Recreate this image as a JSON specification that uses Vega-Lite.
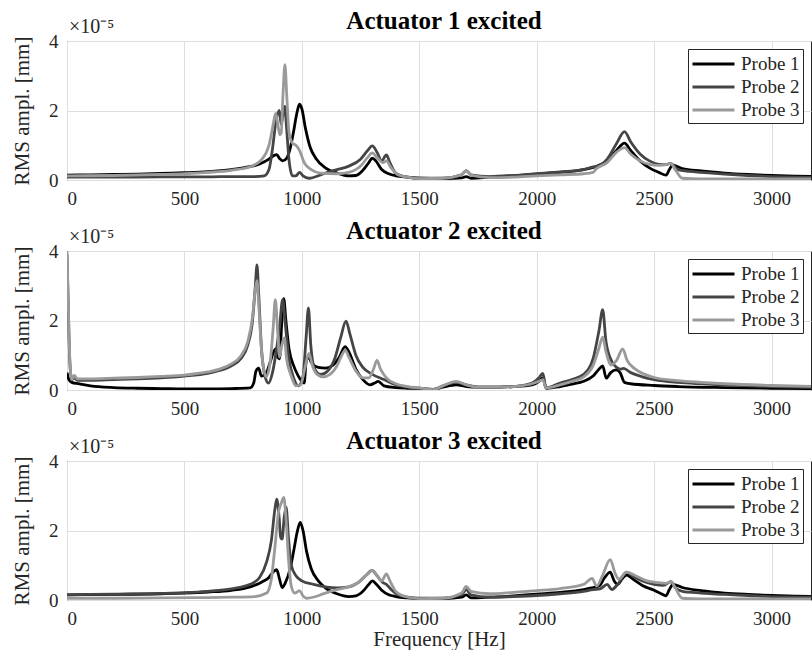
{
"$schema": "https://vega.github.io/schema/vega-lite/v6.json",
"padding": {"left": 10, "top": 8, "right": 0, "bottom": 0},
"background": "white",
"datasets": {
"frf": [
{"act":1,"probe":"Probe 1","f":0,"a":0.14},{"act":1,"probe":"Probe 1","f":100,"a":0.15},{"act":1,"probe":"Probe 1","f":200,"a":0.16},{"act":1,"probe":"Probe 1","f":300,"a":0.17},{"act":1,"probe":"Probe 1","f":400,"a":0.19},{"act":1,"probe":"Probe 1","f":500,"a":0.21},{"act":1,"probe":"Probe 1","f":600,"a":0.24},{"act":1,"probe":"Probe 1","f":700,"a":0.3},{"act":1,"probe":"Probe 1","f":760,"a":0.36},{"act":1,"probe":"Probe 1","f":820,"a":0.46},{"act":1,"probe":"Probe 1","f":860,"a":0.6},{"act":1,"probe":"Probe 1","f":880,"a":0.7},{"act":1,"probe":"Probe 1","f":893,"a":0.73},{"act":1,"probe":"Probe 1","f":905,"a":0.62},{"act":1,"probe":"Probe 1","f":918,"a":0.55},{"act":1,"probe":"Probe 1","f":935,"a":0.62},{"act":1,"probe":"Probe 1","f":950,"a":0.9},{"act":1,"probe":"Probe 1","f":965,"a":1.4},{"act":1,"probe":"Probe 1","f":978,"a":1.9},{"act":1,"probe":"Probe 1","f":990,"a":2.18},{"act":1,"probe":"Probe 1","f":1000,"a":2.05},{"act":1,"probe":"Probe 1","f":1015,"a":1.5},{"act":1,"probe":"Probe 1","f":1035,"a":0.95},{"act":1,"probe":"Probe 1","f":1060,"a":0.62},{"act":1,"probe":"Probe 1","f":1100,"a":0.35},{"act":1,"probe":"Probe 1","f":1150,"a":0.2},{"act":1,"probe":"Probe 1","f":1200,"a":0.12},{"act":1,"probe":"Probe 1","f":1230,"a":0.13},{"act":1,"probe":"Probe 1","f":1260,"a":0.28},{"act":1,"probe":"Probe 1","f":1285,"a":0.5},{"act":1,"probe":"Probe 1","f":1300,"a":0.63},{"act":1,"probe":"Probe 1","f":1315,"a":0.55},{"act":1,"probe":"Probe 1","f":1340,"a":0.3},{"act":1,"probe":"Probe 1","f":1370,"a":0.18},{"act":1,"probe":"Probe 1","f":1400,"a":0.12},{"act":1,"probe":"Probe 1","f":1450,"a":0.08},{"act":1,"probe":"Probe 1","f":1500,"a":0.05},{"act":1,"probe":"Probe 1","f":1600,"a":0.04},{"act":1,"probe":"Probe 1","f":1680,"a":0.06},{"act":1,"probe":"Probe 1","f":1700,"a":0.1},{"act":1,"probe":"Probe 1","f":1720,"a":0.05},{"act":1,"probe":"Probe 1","f":1800,"a":0.08},{"act":1,"probe":"Probe 1","f":1900,"a":0.12},{"act":1,"probe":"Probe 1","f":2000,"a":0.17},{"act":1,"probe":"Probe 1","f":2100,"a":0.22},{"act":1,"probe":"Probe 1","f":2200,"a":0.3},{"act":1,"probe":"Probe 1","f":2250,"a":0.38},{"act":1,"probe":"Probe 1","f":2300,"a":0.55},{"act":1,"probe":"Probe 1","f":2340,"a":0.85},{"act":1,"probe":"Probe 1","f":2374,"a":1.06},{"act":1,"probe":"Probe 1","f":2400,"a":0.85},{"act":1,"probe":"Probe 1","f":2440,"a":0.55},{"act":1,"probe":"Probe 1","f":2480,"a":0.35},{"act":1,"probe":"Probe 1","f":2520,"a":0.22},{"act":1,"probe":"Probe 1","f":2551,"a":0.14},{"act":1,"probe":"Probe 1","f":2565,"a":0.3},{"act":1,"probe":"Probe 1","f":2579,"a":0.43},{"act":1,"probe":"Probe 1","f":2620,"a":0.33},{"act":1,"probe":"Probe 1","f":2700,"a":0.26},{"act":1,"probe":"Probe 1","f":2800,"a":0.2},{"act":1,"probe":"Probe 1","f":2900,"a":0.16},{"act":1,"probe":"Probe 1","f":3000,"a":0.13},{"act":1,"probe":"Probe 1","f":3100,"a":0.11},{"act":1,"probe":"Probe 1","f":3200,"a":0.1},

{"act":1,"probe":"Probe 2","f":0,"a":0.08},{"act":1,"probe":"Probe 2","f":200,"a":0.08},{"act":1,"probe":"Probe 2","f":400,"a":0.09},{"act":1,"probe":"Probe 2","f":600,"a":0.09},{"act":1,"probe":"Probe 2","f":700,"a":0.1},{"act":1,"probe":"Probe 2","f":800,"a":0.1},{"act":1,"probe":"Probe 2","f":840,"a":0.12},{"act":1,"probe":"Probe 2","f":860,"a":0.3},{"act":1,"probe":"Probe 2","f":875,"a":0.9},{"act":1,"probe":"Probe 2","f":890,"a":1.7},{"act":1,"probe":"Probe 2","f":904,"a":2.0},{"act":1,"probe":"Probe 2","f":912,"a":1.6},{"act":1,"probe":"Probe 2","f":920,"a":1.9},{"act":1,"probe":"Probe 2","f":927,"a":2.12},{"act":1,"probe":"Probe 2","f":935,"a":1.5},{"act":1,"probe":"Probe 2","f":945,"a":0.6},{"act":1,"probe":"Probe 2","f":960,"a":0.12},{"act":1,"probe":"Probe 2","f":975,"a":0.12},{"act":1,"probe":"Probe 2","f":990,"a":0.22},{"act":1,"probe":"Probe 2","f":1005,"a":0.12},{"act":1,"probe":"Probe 2","f":1030,"a":0.05},{"act":1,"probe":"Probe 2","f":1100,"a":0.2},{"act":1,"probe":"Probe 2","f":1150,"a":0.3},{"act":1,"probe":"Probe 2","f":1200,"a":0.4},{"act":1,"probe":"Probe 2","f":1250,"a":0.6},{"act":1,"probe":"Probe 2","f":1280,"a":0.85},{"act":1,"probe":"Probe 2","f":1300,"a":0.98},{"act":1,"probe":"Probe 2","f":1320,"a":0.8},{"act":1,"probe":"Probe 2","f":1340,"a":0.55},{"act":1,"probe":"Probe 2","f":1360,"a":0.72},{"act":1,"probe":"Probe 2","f":1375,"a":0.5},{"act":1,"probe":"Probe 2","f":1400,"a":0.2},{"act":1,"probe":"Probe 2","f":1450,"a":0.08},{"act":1,"probe":"Probe 2","f":1500,"a":0.05},{"act":1,"probe":"Probe 2","f":1600,"a":0.05},{"act":1,"probe":"Probe 2","f":1680,"a":0.15},{"act":1,"probe":"Probe 2","f":1700,"a":0.27},{"act":1,"probe":"Probe 2","f":1720,"a":0.15},{"act":1,"probe":"Probe 2","f":1800,"a":0.1},{"act":1,"probe":"Probe 2","f":1900,"a":0.13},{"act":1,"probe":"Probe 2","f":2000,"a":0.18},{"act":1,"probe":"Probe 2","f":2100,"a":0.23},{"act":1,"probe":"Probe 2","f":2200,"a":0.3},{"act":1,"probe":"Probe 2","f":2240,"a":0.38},{"act":1,"probe":"Probe 2","f":2260,"a":0.4},{"act":1,"probe":"Probe 2","f":2300,"a":0.6},{"act":1,"probe":"Probe 2","f":2340,"a":1.05},{"act":1,"probe":"Probe 2","f":2374,"a":1.39},{"act":1,"probe":"Probe 2","f":2400,"a":1.1},{"act":1,"probe":"Probe 2","f":2440,"a":0.75},{"act":1,"probe":"Probe 2","f":2480,"a":0.55},{"act":1,"probe":"Probe 2","f":2520,"a":0.45},{"act":1,"probe":"Probe 2","f":2550,"a":0.44},{"act":1,"probe":"Probe 2","f":2570,"a":0.48},{"act":1,"probe":"Probe 2","f":2600,"a":0.3},{"act":1,"probe":"Probe 2","f":2650,"a":0.25},{"act":1,"probe":"Probe 2","f":2700,"a":0.22},{"act":1,"probe":"Probe 2","f":2800,"a":0.17},{"act":1,"probe":"Probe 2","f":2900,"a":0.13},{"act":1,"probe":"Probe 2","f":3000,"a":0.1},{"act":1,"probe":"Probe 2","f":3100,"a":0.08},{"act":1,"probe":"Probe 2","f":3200,"a":0.07},

{"act":1,"probe":"Probe 3","f":0,"a":0.12},{"act":1,"probe":"Probe 3","f":200,"a":0.13},{"act":1,"probe":"Probe 3","f":400,"a":0.16},{"act":1,"probe":"Probe 3","f":500,"a":0.18},{"act":1,"probe":"Probe 3","f":600,"a":0.22},{"act":1,"probe":"Probe 3","f":700,"a":0.28},{"act":1,"probe":"Probe 3","f":780,"a":0.38},{"act":1,"probe":"Probe 3","f":830,"a":0.6},{"act":1,"probe":"Probe 3","f":860,"a":1.0},{"act":1,"probe":"Probe 3","f":878,"a":1.6},{"act":1,"probe":"Probe 3","f":888,"a":1.92},{"act":1,"probe":"Probe 3","f":898,"a":1.6},{"act":1,"probe":"Probe 3","f":906,"a":1.3},{"act":1,"probe":"Probe 3","f":912,"a":1.35},{"act":1,"probe":"Probe 3","f":920,"a":2.5},{"act":1,"probe":"Probe 3","f":928,"a":3.32},{"act":1,"probe":"Probe 3","f":936,"a":2.4},{"act":1,"probe":"Probe 3","f":945,"a":1.4},{"act":1,"probe":"Probe 3","f":960,"a":1.06},{"act":1,"probe":"Probe 3","f":975,"a":1.0},{"act":1,"probe":"Probe 3","f":990,"a":0.85},{"act":1,"probe":"Probe 3","f":1010,"a":0.5},{"act":1,"probe":"Probe 3","f":1040,"a":0.3},{"act":1,"probe":"Probe 3","f":1080,"a":0.2},{"act":1,"probe":"Probe 3","f":1150,"a":0.18},{"act":1,"probe":"Probe 3","f":1200,"a":0.22},{"act":1,"probe":"Probe 3","f":1250,"a":0.4},{"act":1,"probe":"Probe 3","f":1280,"a":0.65},{"act":1,"probe":"Probe 3","f":1300,"a":0.78},{"act":1,"probe":"Probe 3","f":1320,"a":0.65},{"act":1,"probe":"Probe 3","f":1345,"a":0.5},{"act":1,"probe":"Probe 3","f":1360,"a":0.55},{"act":1,"probe":"Probe 3","f":1380,"a":0.35},{"act":1,"probe":"Probe 3","f":1410,"a":0.15},{"act":1,"probe":"Probe 3","f":1450,"a":0.08},{"act":1,"probe":"Probe 3","f":1500,"a":0.04},{"act":1,"probe":"Probe 3","f":1600,"a":0.05},{"act":1,"probe":"Probe 3","f":1680,"a":0.15},{"act":1,"probe":"Probe 3","f":1700,"a":0.27},{"act":1,"probe":"Probe 3","f":1720,"a":0.14},{"act":1,"probe":"Probe 3","f":1800,"a":0.07},{"act":1,"probe":"Probe 3","f":1900,"a":0.08},{"act":1,"probe":"Probe 3","f":2000,"a":0.12},{"act":1,"probe":"Probe 3","f":2100,"a":0.15},{"act":1,"probe":"Probe 3","f":2200,"a":0.18},{"act":1,"probe":"Probe 3","f":2240,"a":0.22},{"act":1,"probe":"Probe 3","f":2255,"a":0.33},{"act":1,"probe":"Probe 3","f":2300,"a":0.5},{"act":1,"probe":"Probe 3","f":2340,"a":0.8},{"act":1,"probe":"Probe 3","f":2374,"a":0.93},{"act":1,"probe":"Probe 3","f":2400,"a":0.75},{"act":1,"probe":"Probe 3","f":2440,"a":0.55},{"act":1,"probe":"Probe 3","f":2480,"a":0.45},{"act":1,"probe":"Probe 3","f":2520,"a":0.42},{"act":1,"probe":"Probe 3","f":2550,"a":0.44},{"act":1,"probe":"Probe 3","f":2570,"a":0.48},{"act":1,"probe":"Probe 3","f":2590,"a":0.3},{"act":1,"probe":"Probe 3","f":2620,"a":0.05},{"act":1,"probe":"Probe 3","f":2700,"a":0.03},{"act":1,"probe":"Probe 3","f":2900,"a":0.03},{"act":1,"probe":"Probe 3","f":3200,"a":0.03},

{"act":2,"probe":"Probe 1","f":0,"a":0.5},{"act":2,"probe":"Probe 1","f":8,"a":0.3},{"act":2,"probe":"Probe 1","f":20,"a":0.22},{"act":2,"probe":"Probe 1","f":50,"a":0.18},{"act":2,"probe":"Probe 1","f":100,"a":0.12},{"act":2,"probe":"Probe 1","f":200,"a":0.07},{"act":2,"probe":"Probe 1","f":300,"a":0.05},{"act":2,"probe":"Probe 1","f":400,"a":0.04},{"act":2,"probe":"Probe 1","f":500,"a":0.03},{"act":2,"probe":"Probe 1","f":600,"a":0.03},{"act":2,"probe":"Probe 1","f":700,"a":0.04},{"act":2,"probe":"Probe 1","f":780,"a":0.06},{"act":2,"probe":"Probe 1","f":795,"a":0.2},{"act":2,"probe":"Probe 1","f":805,"a":0.55},{"act":2,"probe":"Probe 1","f":816,"a":0.63},{"act":2,"probe":"Probe 1","f":828,"a":0.4},{"act":2,"probe":"Probe 1","f":845,"a":0.45},{"act":2,"probe":"Probe 1","f":865,"a":0.8},{"act":2,"probe":"Probe 1","f":880,"a":1.1},{"act":2,"probe":"Probe 1","f":888,"a":1.18},{"act":2,"probe":"Probe 1","f":897,"a":0.95},{"act":2,"probe":"Probe 1","f":905,"a":0.9},{"act":2,"probe":"Probe 1","f":915,"a":2.0},{"act":2,"probe":"Probe 1","f":923,"a":2.63},{"act":2,"probe":"Probe 1","f":932,"a":2.0},{"act":2,"probe":"Probe 1","f":945,"a":1.2},{"act":2,"probe":"Probe 1","f":965,"a":0.7},{"act":2,"probe":"Probe 1","f":985,"a":0.4},{"act":2,"probe":"Probe 1","f":1000,"a":0.25},{"act":2,"probe":"Probe 1","f":1010,"a":0.2},{"act":2,"probe":"Probe 1","f":1018,"a":0.8},{"act":2,"probe":"Probe 1","f":1028,"a":0.95},{"act":2,"probe":"Probe 1","f":1040,"a":0.8},{"act":2,"probe":"Probe 1","f":1070,"a":0.65},{"act":2,"probe":"Probe 1","f":1100,"a":0.63},{"act":2,"probe":"Probe 1","f":1130,"a":0.7},{"act":2,"probe":"Probe 1","f":1160,"a":0.95},{"act":2,"probe":"Probe 1","f":1184,"a":1.25},{"act":2,"probe":"Probe 1","f":1200,"a":1.1},{"act":2,"probe":"Probe 1","f":1230,"a":0.6},{"act":2,"probe":"Probe 1","f":1260,"a":0.3},{"act":2,"probe":"Probe 1","f":1290,"a":0.15},{"act":2,"probe":"Probe 1","f":1310,"a":0.2},{"act":2,"probe":"Probe 1","f":1325,"a":0.25},{"act":2,"probe":"Probe 1","f":1350,"a":0.12},{"act":2,"probe":"Probe 1","f":1400,"a":0.07},{"act":2,"probe":"Probe 1","f":1450,"a":0.05},{"act":2,"probe":"Probe 1","f":1500,"a":0.04},{"act":2,"probe":"Probe 1","f":1560,"a":0.02},{"act":2,"probe":"Probe 1","f":1600,"a":0.08},{"act":2,"probe":"Probe 1","f":1657,"a":0.15},{"act":2,"probe":"Probe 1","f":1700,"a":0.1},{"act":2,"probe":"Probe 1","f":1750,"a":0.08},{"act":2,"probe":"Probe 1","f":1800,"a":0.08},{"act":2,"probe":"Probe 1","f":1900,"a":0.1},{"act":2,"probe":"Probe 1","f":1980,"a":0.15},{"act":2,"probe":"Probe 1","f":2010,"a":0.25},{"act":2,"probe":"Probe 1","f":2026,"a":0.35},{"act":2,"probe":"Probe 1","f":2040,"a":0.05},{"act":2,"probe":"Probe 1","f":2100,"a":0.1},{"act":2,"probe":"Probe 1","f":2150,"a":0.17},{"act":2,"probe":"Probe 1","f":2200,"a":0.25},{"act":2,"probe":"Probe 1","f":2240,"a":0.4},{"act":2,"probe":"Probe 1","f":2265,"a":0.6},{"act":2,"probe":"Probe 1","f":2281,"a":0.69},{"act":2,"probe":"Probe 1","f":2296,"a":0.34},{"act":2,"probe":"Probe 1","f":2315,"a":0.5},{"act":2,"probe":"Probe 1","f":2338,"a":0.58},{"act":2,"probe":"Probe 1","f":2355,"a":0.5},{"act":2,"probe":"Probe 1","f":2374,"a":0.22},{"act":2,"probe":"Probe 1","f":2400,"a":0.18},{"act":2,"probe":"Probe 1","f":2500,"a":0.13},{"act":2,"probe":"Probe 1","f":2600,"a":0.1},{"act":2,"probe":"Probe 1","f":2800,"a":0.07},{"act":2,"probe":"Probe 1","f":3000,"a":0.05},{"act":2,"probe":"Probe 1","f":3200,"a":0.04},

{"act":2,"probe":"Probe 2","f":0,"a":3.9},{"act":2,"probe":"Probe 2","f":5,"a":2.5},{"act":2,"probe":"Probe 2","f":12,"a":0.8},{"act":2,"probe":"Probe 2","f":20,"a":0.3},{"act":2,"probe":"Probe 2","f":30,"a":0.35},{"act":2,"probe":"Probe 2","f":45,"a":0.28},{"act":2,"probe":"Probe 2","f":100,"a":0.28},{"act":2,"probe":"Probe 2","f":200,"a":0.3},{"act":2,"probe":"Probe 2","f":300,"a":0.32},{"act":2,"probe":"Probe 2","f":400,"a":0.35},{"act":2,"probe":"Probe 2","f":500,"a":0.4},{"act":2,"probe":"Probe 2","f":600,"a":0.48},{"act":2,"probe":"Probe 2","f":650,"a":0.56},{"act":2,"probe":"Probe 2","f":700,"a":0.7},{"act":2,"probe":"Probe 2","f":740,"a":0.9},{"act":2,"probe":"Probe 2","f":770,"a":1.3},{"act":2,"probe":"Probe 2","f":790,"a":2.0},{"act":2,"probe":"Probe 2","f":802,"a":3.0},{"act":2,"probe":"Probe 2","f":809,"a":3.6},{"act":2,"probe":"Probe 2","f":816,"a":2.8},{"act":2,"probe":"Probe 2","f":828,"a":1.2},{"act":2,"probe":"Probe 2","f":845,"a":0.35},{"act":2,"probe":"Probe 2","f":858,"a":0.2},{"act":2,"probe":"Probe 2","f":875,"a":0.5},{"act":2,"probe":"Probe 2","f":895,"a":1.3},{"act":2,"probe":"Probe 2","f":905,"a":1.8},{"act":2,"probe":"Probe 2","f":918,"a":2.6},{"act":2,"probe":"Probe 2","f":928,"a":2.0},{"act":2,"probe":"Probe 2","f":945,"a":0.9},{"act":2,"probe":"Probe 2","f":965,"a":0.35},{"act":2,"probe":"Probe 2","f":985,"a":0.12},{"act":2,"probe":"Probe 2","f":1005,"a":0.4},{"act":2,"probe":"Probe 2","f":1018,"a":1.5},{"act":2,"probe":"Probe 2","f":1028,"a":2.36},{"act":2,"probe":"Probe 2","f":1038,"a":1.3},{"act":2,"probe":"Probe 2","f":1055,"a":0.6},{"act":2,"probe":"Probe 2","f":1080,"a":0.45},{"act":2,"probe":"Probe 2","f":1110,"a":0.55},{"act":2,"probe":"Probe 2","f":1140,"a":0.9},{"act":2,"probe":"Probe 2","f":1165,"a":1.5},{"act":2,"probe":"Probe 2","f":1188,"a":1.98},{"act":2,"probe":"Probe 2","f":1205,"a":1.6},{"act":2,"probe":"Probe 2","f":1230,"a":1.0},{"act":2,"probe":"Probe 2","f":1260,"a":0.65},{"act":2,"probe":"Probe 2","f":1300,"a":0.45},{"act":2,"probe":"Probe 2","f":1350,"a":0.3},{"act":2,"probe":"Probe 2","f":1400,"a":0.15},{"act":2,"probe":"Probe 2","f":1450,"a":0.08},{"act":2,"probe":"Probe 2","f":1500,"a":0.05},{"act":2,"probe":"Probe 2","f":1560,"a":0.01},{"act":2,"probe":"Probe 2","f":1600,"a":0.12},{"act":2,"probe":"Probe 2","f":1657,"a":0.22},{"act":2,"probe":"Probe 2","f":1700,"a":0.15},{"act":2,"probe":"Probe 2","f":1750,"a":0.08},{"act":2,"probe":"Probe 2","f":1800,"a":0.08},{"act":2,"probe":"Probe 2","f":1900,"a":0.1},{"act":2,"probe":"Probe 2","f":1980,"a":0.2},{"act":2,"probe":"Probe 2","f":2010,"a":0.35},{"act":2,"probe":"Probe 2","f":2026,"a":0.48},{"act":2,"probe":"Probe 2","f":2040,"a":0.06},{"act":2,"probe":"Probe 2","f":2100,"a":0.2},{"act":2,"probe":"Probe 2","f":2150,"a":0.3},{"act":2,"probe":"Probe 2","f":2200,"a":0.45},{"act":2,"probe":"Probe 2","f":2240,"a":0.9},{"act":2,"probe":"Probe 2","f":2265,"a":1.7},{"act":2,"probe":"Probe 2","f":2281,"a":2.31},{"act":2,"probe":"Probe 2","f":2295,"a":1.4},{"act":2,"probe":"Probe 2","f":2320,"a":0.82},{"act":2,"probe":"Probe 2","f":2340,"a":0.65},{"act":2,"probe":"Probe 2","f":2355,"a":0.6},{"act":2,"probe":"Probe 2","f":2370,"a":0.62},{"act":2,"probe":"Probe 2","f":2400,"a":0.5},{"act":2,"probe":"Probe 2","f":2450,"a":0.38},{"act":2,"probe":"Probe 2","f":2500,"a":0.3},{"act":2,"probe":"Probe 2","f":2600,"a":0.22},{"act":2,"probe":"Probe 2","f":2700,"a":0.18},{"act":2,"probe":"Probe 2","f":2800,"a":0.15},{"act":2,"probe":"Probe 2","f":3000,"a":0.1},{"act":2,"probe":"Probe 2","f":3200,"a":0.07},

{"act":2,"probe":"Probe 3","f":0,"a":4.0},{"act":2,"probe":"Probe 3","f":5,"a":2.6},{"act":2,"probe":"Probe 3","f":12,"a":0.9},{"act":2,"probe":"Probe 3","f":20,"a":0.3},{"act":2,"probe":"Probe 3","f":30,"a":0.42},{"act":2,"probe":"Probe 3","f":45,"a":0.32},{"act":2,"probe":"Probe 3","f":100,"a":0.32},{"act":2,"probe":"Probe 3","f":200,"a":0.34},{"act":2,"probe":"Probe 3","f":300,"a":0.36},{"act":2,"probe":"Probe 3","f":400,"a":0.39},{"act":2,"probe":"Probe 3","f":500,"a":0.43},{"act":2,"probe":"Probe 3","f":600,"a":0.52},{"act":2,"probe":"Probe 3","f":650,"a":0.6},{"act":2,"probe":"Probe 3","f":700,"a":0.75},{"act":2,"probe":"Probe 3","f":740,"a":0.98},{"act":2,"probe":"Probe 3","f":770,"a":1.4},{"act":2,"probe":"Probe 3","f":790,"a":2.1},{"act":2,"probe":"Probe 3","f":802,"a":2.9},{"act":2,"probe":"Probe 3","f":809,"a":3.15},{"act":2,"probe":"Probe 3","f":816,"a":2.5},{"act":2,"probe":"Probe 3","f":830,"a":1.0},{"act":2,"probe":"Probe 3","f":848,"a":0.38},{"act":2,"probe":"Probe 3","f":865,"a":0.8},{"act":2,"probe":"Probe 3","f":878,"a":1.8},{"act":2,"probe":"Probe 3","f":887,"a":2.6},{"act":2,"probe":"Probe 3","f":896,"a":1.8},{"act":2,"probe":"Probe 3","f":905,"a":0.95},{"act":2,"probe":"Probe 3","f":915,"a":1.3},{"act":2,"probe":"Probe 3","f":925,"a":1.5},{"act":2,"probe":"Probe 3","f":935,"a":0.9},{"act":2,"probe":"Probe 3","f":955,"a":0.4},{"act":2,"probe":"Probe 3","f":975,"a":0.12},{"act":2,"probe":"Probe 3","f":995,"a":0.15},{"act":2,"probe":"Probe 3","f":1012,"a":0.6},{"act":2,"probe":"Probe 3","f":1030,"a":1.05},{"act":2,"probe":"Probe 3","f":1045,"a":0.7},{"act":2,"probe":"Probe 3","f":1065,"a":0.45},{"act":2,"probe":"Probe 3","f":1090,"a":0.38},{"act":2,"probe":"Probe 3","f":1120,"a":0.45},{"act":2,"probe":"Probe 3","f":1150,"a":0.7},{"act":2,"probe":"Probe 3","f":1170,"a":1.0},{"act":2,"probe":"Probe 3","f":1185,"a":1.15},{"act":2,"probe":"Probe 3","f":1200,"a":0.95},{"act":2,"probe":"Probe 3","f":1230,"a":0.55},{"act":2,"probe":"Probe 3","f":1260,"a":0.35},{"act":2,"probe":"Probe 3","f":1285,"a":0.35},{"act":2,"probe":"Probe 3","f":1305,"a":0.6},{"act":2,"probe":"Probe 3","f":1320,"a":0.85},{"act":2,"probe":"Probe 3","f":1335,"a":0.6},{"act":2,"probe":"Probe 3","f":1360,"a":0.35},{"act":2,"probe":"Probe 3","f":1400,"a":0.18},{"act":2,"probe":"Probe 3","f":1450,"a":0.1},{"act":2,"probe":"Probe 3","f":1500,"a":0.06},{"act":2,"probe":"Probe 3","f":1560,"a":0.01},{"act":2,"probe":"Probe 3","f":1600,"a":0.12},{"act":2,"probe":"Probe 3","f":1657,"a":0.25},{"act":2,"probe":"Probe 3","f":1700,"a":0.15},{"act":2,"probe":"Probe 3","f":1750,"a":0.08},{"act":2,"probe":"Probe 3","f":1800,"a":0.08},{"act":2,"probe":"Probe 3","f":1900,"a":0.1},{"act":2,"probe":"Probe 3","f":1980,"a":0.18},{"act":2,"probe":"Probe 3","f":2010,"a":0.25},{"act":2,"probe":"Probe 3","f":2026,"a":0.3},{"act":2,"probe":"Probe 3","f":2040,"a":0.06},{"act":2,"probe":"Probe 3","f":2100,"a":0.15},{"act":2,"probe":"Probe 3","f":2150,"a":0.25},{"act":2,"probe":"Probe 3","f":2200,"a":0.38},{"act":2,"probe":"Probe 3","f":2240,"a":0.7},{"act":2,"probe":"Probe 3","f":2265,"a":1.2},{"act":2,"probe":"Probe 3","f":2281,"a":1.52},{"act":2,"probe":"Probe 3","f":2295,"a":1.1},{"act":2,"probe":"Probe 3","f":2317,"a":0.72},{"act":2,"probe":"Probe 3","f":2340,"a":0.85},{"act":2,"probe":"Probe 3","f":2366,"a":1.18},{"act":2,"probe":"Probe 3","f":2385,"a":0.85},{"act":2,"probe":"Probe 3","f":2420,"a":0.6},{"act":2,"probe":"Probe 3","f":2460,"a":0.45},{"act":2,"probe":"Probe 3","f":2500,"a":0.36},{"act":2,"probe":"Probe 3","f":2600,"a":0.27},{"act":2,"probe":"Probe 3","f":2700,"a":0.22},{"act":2,"probe":"Probe 3","f":2800,"a":0.18},{"act":2,"probe":"Probe 3","f":3000,"a":0.13},{"act":2,"probe":"Probe 3","f":3200,"a":0.1},

{"act":3,"probe":"Probe 1","f":0,"a":0.15},{"act":3,"probe":"Probe 1","f":200,"a":0.16},{"act":3,"probe":"Probe 1","f":400,"a":0.18},{"act":3,"probe":"Probe 1","f":500,"a":0.2},{"act":3,"probe":"Probe 1","f":600,"a":0.23},{"act":3,"probe":"Probe 1","f":700,"a":0.28},{"act":3,"probe":"Probe 1","f":780,"a":0.38},{"act":3,"probe":"Probe 1","f":830,"a":0.52},{"act":3,"probe":"Probe 1","f":860,"a":0.65},{"act":3,"probe":"Probe 1","f":880,"a":0.82},{"act":3,"probe":"Probe 1","f":893,"a":0.87},{"act":3,"probe":"Probe 1","f":905,"a":0.6},{"act":3,"probe":"Probe 1","f":916,"a":0.36},{"act":3,"probe":"Probe 1","f":930,"a":0.5},{"act":3,"probe":"Probe 1","f":950,"a":0.9},{"act":3,"probe":"Probe 1","f":965,"a":1.4},{"act":3,"probe":"Probe 1","f":980,"a":1.95},{"act":3,"probe":"Probe 1","f":993,"a":2.23},{"act":3,"probe":"Probe 1","f":1005,"a":2.0},{"act":3,"probe":"Probe 1","f":1020,"a":1.4},{"act":3,"probe":"Probe 1","f":1040,"a":0.9},{"act":3,"probe":"Probe 1","f":1070,"a":0.55},{"act":3,"probe":"Probe 1","f":1100,"a":0.35},{"act":3,"probe":"Probe 1","f":1150,"a":0.18},{"act":3,"probe":"Probe 1","f":1200,"a":0.1},{"act":3,"probe":"Probe 1","f":1230,"a":0.12},{"act":3,"probe":"Probe 1","f":1260,"a":0.25},{"act":3,"probe":"Probe 1","f":1285,"a":0.45},{"act":3,"probe":"Probe 1","f":1300,"a":0.55},{"act":3,"probe":"Probe 1","f":1315,"a":0.47},{"act":3,"probe":"Probe 1","f":1340,"a":0.28},{"act":3,"probe":"Probe 1","f":1370,"a":0.15},{"act":3,"probe":"Probe 1","f":1400,"a":0.1},{"act":3,"probe":"Probe 1","f":1450,"a":0.06},{"act":3,"probe":"Probe 1","f":1500,"a":0.04},{"act":3,"probe":"Probe 1","f":1600,"a":0.04},{"act":3,"probe":"Probe 1","f":1680,"a":0.08},{"act":3,"probe":"Probe 1","f":1700,"a":0.15},{"act":3,"probe":"Probe 1","f":1720,"a":0.06},{"act":3,"probe":"Probe 1","f":1800,"a":0.08},{"act":3,"probe":"Probe 1","f":1900,"a":0.12},{"act":3,"probe":"Probe 1","f":2000,"a":0.17},{"act":3,"probe":"Probe 1","f":2100,"a":0.22},{"act":3,"probe":"Probe 1","f":2200,"a":0.3},{"act":3,"probe":"Probe 1","f":2240,"a":0.36},{"act":3,"probe":"Probe 1","f":2265,"a":0.4},{"act":3,"probe":"Probe 1","f":2290,"a":0.65},{"act":3,"probe":"Probe 1","f":2313,"a":0.8},{"act":3,"probe":"Probe 1","f":2330,"a":0.55},{"act":3,"probe":"Probe 1","f":2345,"a":0.45},{"act":3,"probe":"Probe 1","f":2365,"a":0.62},{"act":3,"probe":"Probe 1","f":2383,"a":0.72},{"act":3,"probe":"Probe 1","f":2410,"a":0.6},{"act":3,"probe":"Probe 1","f":2450,"a":0.42},{"act":3,"probe":"Probe 1","f":2500,"a":0.28},{"act":3,"probe":"Probe 1","f":2530,"a":0.18},{"act":3,"probe":"Probe 1","f":2550,"a":0.12},{"act":3,"probe":"Probe 1","f":2565,"a":0.3},{"act":3,"probe":"Probe 1","f":2580,"a":0.45},{"act":3,"probe":"Probe 1","f":2620,"a":0.36},{"act":3,"probe":"Probe 1","f":2700,"a":0.27},{"act":3,"probe":"Probe 1","f":2800,"a":0.2},{"act":3,"probe":"Probe 1","f":2900,"a":0.16},{"act":3,"probe":"Probe 1","f":3000,"a":0.13},{"act":3,"probe":"Probe 1","f":3100,"a":0.11},{"act":3,"probe":"Probe 1","f":3200,"a":0.1},

{"act":3,"probe":"Probe 2","f":0,"a":0.15},{"act":3,"probe":"Probe 2","f":200,"a":0.17},{"act":3,"probe":"Probe 2","f":400,"a":0.19},{"act":3,"probe":"Probe 2","f":500,"a":0.21},{"act":3,"probe":"Probe 2","f":600,"a":0.25},{"act":3,"probe":"Probe 2","f":700,"a":0.32},{"act":3,"probe":"Probe 2","f":780,"a":0.45},{"act":3,"probe":"Probe 2","f":820,"a":0.65},{"act":3,"probe":"Probe 2","f":850,"a":1.1},{"act":3,"probe":"Probe 2","f":870,"a":1.7},{"act":3,"probe":"Probe 2","f":885,"a":2.6},{"act":3,"probe":"Probe 2","f":893,"a":2.9},{"act":3,"probe":"Probe 2","f":903,"a":2.4},{"act":3,"probe":"Probe 2","f":910,"a":1.8},{"act":3,"probe":"Probe 2","f":916,"a":1.75},{"act":3,"probe":"Probe 2","f":925,"a":2.4},{"act":3,"probe":"Probe 2","f":933,"a":2.67},{"act":3,"probe":"Probe 2","f":943,"a":1.8},{"act":3,"probe":"Probe 2","f":955,"a":1.0},{"act":3,"probe":"Probe 2","f":975,"a":0.7},{"act":3,"probe":"Probe 2","f":1000,"a":0.55},{"act":3,"probe":"Probe 2","f":1050,"a":0.45},{"act":3,"probe":"Probe 2","f":1100,"a":0.38},{"act":3,"probe":"Probe 2","f":1150,"a":0.35},{"act":3,"probe":"Probe 2","f":1200,"a":0.38},{"act":3,"probe":"Probe 2","f":1240,"a":0.5},{"act":3,"probe":"Probe 2","f":1275,"a":0.72},{"act":3,"probe":"Probe 2","f":1299,"a":0.85},{"act":3,"probe":"Probe 2","f":1320,"a":0.7},{"act":3,"probe":"Probe 2","f":1345,"a":0.5},{"act":3,"probe":"Probe 2","f":1360,"a":0.45},{"act":3,"probe":"Probe 2","f":1380,"a":0.3},{"act":3,"probe":"Probe 2","f":1410,"a":0.15},{"act":3,"probe":"Probe 2","f":1450,"a":0.08},{"act":3,"probe":"Probe 2","f":1500,"a":0.05},{"act":3,"probe":"Probe 2","f":1600,"a":0.05},{"act":3,"probe":"Probe 2","f":1680,"a":0.15},{"act":3,"probe":"Probe 2","f":1700,"a":0.3},{"act":3,"probe":"Probe 2","f":1720,"a":0.15},{"act":3,"probe":"Probe 2","f":1800,"a":0.08},{"act":3,"probe":"Probe 2","f":1900,"a":0.1},{"act":3,"probe":"Probe 2","f":2000,"a":0.13},{"act":3,"probe":"Probe 2","f":2100,"a":0.18},{"act":3,"probe":"Probe 2","f":2200,"a":0.25},{"act":3,"probe":"Probe 2","f":2240,"a":0.3},{"act":3,"probe":"Probe 2","f":2270,"a":0.32},{"act":3,"probe":"Probe 2","f":2300,"a":0.45},{"act":3,"probe":"Probe 2","f":2320,"a":0.3},{"act":3,"probe":"Probe 2","f":2345,"a":0.45},{"act":3,"probe":"Probe 2","f":2383,"a":0.8},{"act":3,"probe":"Probe 2","f":2410,"a":0.68},{"act":3,"probe":"Probe 2","f":2450,"a":0.55},{"act":3,"probe":"Probe 2","f":2500,"a":0.45},{"act":3,"probe":"Probe 2","f":2540,"a":0.42},{"act":3,"probe":"Probe 2","f":2572,"a":0.53},{"act":3,"probe":"Probe 2","f":2590,"a":0.35},{"act":3,"probe":"Probe 2","f":2620,"a":0.25},{"act":3,"probe":"Probe 2","f":2700,"a":0.2},{"act":3,"probe":"Probe 2","f":2800,"a":0.16},{"act":3,"probe":"Probe 2","f":2900,"a":0.13},{"act":3,"probe":"Probe 2","f":3000,"a":0.1},{"act":3,"probe":"Probe 2","f":3200,"a":0.08},

{"act":3,"probe":"Probe 3","f":0,"a":0.05},{"act":3,"probe":"Probe 3","f":200,"a":0.05},{"act":3,"probe":"Probe 3","f":400,"a":0.06},{"act":3,"probe":"Probe 3","f":600,"a":0.07},{"act":3,"probe":"Probe 3","f":700,"a":0.08},{"act":3,"probe":"Probe 3","f":800,"a":0.1},{"act":3,"probe":"Probe 3","f":850,"a":0.2},{"act":3,"probe":"Probe 3","f":870,"a":0.6},{"act":3,"probe":"Probe 3","f":885,"a":1.5},{"act":3,"probe":"Probe 3","f":900,"a":2.5},{"act":3,"probe":"Probe 3","f":913,"a":2.8},{"act":3,"probe":"Probe 3","f":923,"a":2.95},{"act":3,"probe":"Probe 3","f":932,"a":2.4},{"act":3,"probe":"Probe 3","f":942,"a":1.3},{"act":3,"probe":"Probe 3","f":955,"a":0.4},{"act":3,"probe":"Probe 3","f":970,"a":0.2},{"act":3,"probe":"Probe 3","f":990,"a":0.27},{"act":3,"probe":"Probe 3","f":1005,"a":0.12},{"act":3,"probe":"Probe 3","f":1020,"a":0.05},{"act":3,"probe":"Probe 3","f":1060,"a":0.1},{"act":3,"probe":"Probe 3","f":1100,"a":0.2},{"act":3,"probe":"Probe 3","f":1150,"a":0.3},{"act":3,"probe":"Probe 3","f":1200,"a":0.38},{"act":3,"probe":"Probe 3","f":1250,"a":0.55},{"act":3,"probe":"Probe 3","f":1280,"a":0.75},{"act":3,"probe":"Probe 3","f":1300,"a":0.85},{"act":3,"probe":"Probe 3","f":1320,"a":0.7},{"act":3,"probe":"Probe 3","f":1340,"a":0.55},{"act":3,"probe":"Probe 3","f":1360,"a":0.75},{"act":3,"probe":"Probe 3","f":1375,"a":0.55},{"act":3,"probe":"Probe 3","f":1400,"a":0.25},{"act":3,"probe":"Probe 3","f":1440,"a":0.1},{"act":3,"probe":"Probe 3","f":1500,"a":0.04},{"act":3,"probe":"Probe 3","f":1600,"a":0.05},{"act":3,"probe":"Probe 3","f":1680,"a":0.2},{"act":3,"probe":"Probe 3","f":1700,"a":0.39},{"act":3,"probe":"Probe 3","f":1720,"a":0.25},{"act":3,"probe":"Probe 3","f":1800,"a":0.18},{"act":3,"probe":"Probe 3","f":1900,"a":0.22},{"act":3,"probe":"Probe 3","f":2000,"a":0.27},{"act":3,"probe":"Probe 3","f":2100,"a":0.33},{"act":3,"probe":"Probe 3","f":2200,"a":0.45},{"act":3,"probe":"Probe 3","f":2236,"a":0.62},{"act":3,"probe":"Probe 3","f":2255,"a":0.4},{"act":3,"probe":"Probe 3","f":2280,"a":0.7},{"act":3,"probe":"Probe 3","f":2313,"a":1.16},{"act":3,"probe":"Probe 3","f":2335,"a":0.75},{"act":3,"probe":"Probe 3","f":2350,"a":0.6},{"act":3,"probe":"Probe 3","f":2383,"a":0.8},{"act":3,"probe":"Probe 3","f":2420,"a":0.7},{"act":3,"probe":"Probe 3","f":2470,"a":0.55},{"act":3,"probe":"Probe 3","f":2520,"a":0.5},{"act":3,"probe":"Probe 3","f":2550,"a":0.48},{"act":3,"probe":"Probe 3","f":2572,"a":0.53},{"act":3,"probe":"Probe 3","f":2590,"a":0.35},{"act":3,"probe":"Probe 3","f":2620,"a":0.05},{"act":3,"probe":"Probe 3","f":2700,"a":0.03},{"act":3,"probe":"Probe 3","f":2900,"a":0.03},{"act":3,"probe":"Probe 3","f":3200,"a":0.03}
],
"exp": [{"t": "×10⁻⁵"}]
},
"vconcat": [
{
"width": 744, "height": 139,
"title": {"text": "Actuator 1 excited"},
"layer": [
{"data": {"name": "frf"}, "transform": [{"filter": "datum.act == 1"}],
 "mark": {"type": "line", "strokeWidth": 2.8, "interpolate": "monotone", "clip": true},
 "encoding": {
  "x": {"field": "f", "type": "quantitative", "scale": {"domain": [0, 3168], "nice": false}, "axis": {"values": [0,500,1000,1500,2000,2500,3000], "format": "d", "title": null}},
  "y": {"field": "a", "type": "quantitative", "scale": {"domain": [0, 4], "nice": false}, "axis": {"values": [0,2,4], "title": "RMS ampl. [mm]"}},
  "color": {"field": "probe", "type": "nominal", "scale": {"domain": ["Probe 1","Probe 2","Probe 3"], "range": ["#000000","#454545","#9a9a9a"]}, "legend": {"title": null}}
 }},
{"data": {"name": "exp"},
 "mark": {"type": "text", "align": "left", "baseline": "alphabetic", "dx": 2, "dy": -8, "font": "Liberation Serif", "fontSize": 20, "color": "#262626"},
 "encoding": {"x": {"datum": 0, "type": "quantitative"}, "y": {"datum": 4, "type": "quantitative"}, "text": {"field": "t"}}}
]
},
{
"width": 744, "height": 139,
"title": {"text": "Actuator 2 excited"},
"layer": [
{"data": {"name": "frf"}, "transform": [{"filter": "datum.act == 2"}],
 "mark": {"type": "line", "strokeWidth": 2.8, "interpolate": "monotone", "clip": true},
 "encoding": {
  "x": {"field": "f", "type": "quantitative", "scale": {"domain": [0, 3168], "nice": false}, "axis": {"values": [0,500,1000,1500,2000,2500,3000], "format": "d", "title": null}},
  "y": {"field": "a", "type": "quantitative", "scale": {"domain": [0, 4], "nice": false}, "axis": {"values": [0,2,4], "title": "RMS ampl. [mm]"}},
  "color": {"field": "probe", "type": "nominal", "scale": {"domain": ["Probe 1","Probe 2","Probe 3"], "range": ["#000000","#454545","#9a9a9a"]}, "legend": {"title": null}}
 }},
{"data": {"name": "exp"},
 "mark": {"type": "text", "align": "left", "baseline": "alphabetic", "dx": 2, "dy": -8, "font": "Liberation Serif", "fontSize": 20, "color": "#262626"},
 "encoding": {"x": {"datum": 0, "type": "quantitative"}, "y": {"datum": 4, "type": "quantitative"}, "text": {"field": "t"}}}
]
},
{
"width": 744, "height": 139,
"title": {"text": "Actuator 3 excited"},
"layer": [
{"data": {"name": "frf"}, "transform": [{"filter": "datum.act == 3"}],
 "mark": {"type": "line", "strokeWidth": 2.8, "interpolate": "monotone", "clip": true},
 "encoding": {
  "x": {"field": "f", "type": "quantitative", "scale": {"domain": [0, 3168], "nice": false}, "axis": {"values": [0,500,1000,1500,2000,2500,3000], "format": "d", "title": "Frequency [Hz]"}},
  "y": {"field": "a", "type": "quantitative", "scale": {"domain": [0, 4], "nice": false}, "axis": {"values": [0,2,4], "title": "RMS ampl. [mm]"}},
  "color": {"field": "probe", "type": "nominal", "scale": {"domain": ["Probe 1","Probe 2","Probe 3"], "range": ["#000000","#454545","#9a9a9a"]}, "legend": {"title": null}}
 }},
{"data": {"name": "exp"},
 "mark": {"type": "text", "align": "left", "baseline": "alphabetic", "dx": 2, "dy": -8, "font": "Liberation Serif", "fontSize": 20, "color": "#262626"},
 "encoding": {"x": {"datum": 0, "type": "quantitative"}, "y": {"datum": 4, "type": "quantitative"}, "text": {"field": "t"}}}
]
}
],
"spacing": 71,
"bounds": "flush",
"resolve": {"scale": {"color": "independent"}, "legend": {"color": "independent"}},
"config": {
 "font": "Liberation Serif",
 "view": {"stroke": "#262626", "strokeWidth": 1},
 "axis": {"labelFont": "Liberation Serif", "labelFontSize": 19, "labelColor": "#262626", "titleFont": "Liberation Serif", "titleFontSize": 21, "titleFontWeight": "normal", "titleColor": "#262626", "gridColor": "#dedede", "gridWidth": 1, "domain": false, "ticks": false, "labelPadding": 9},
 "axisY": {"titlePadding": 16},
 "axisX": {"titlePadding": 0},
 "title": {"font": "Liberation Serif", "fontSize": 25, "fontWeight": "bold", "color": "#000000", "anchor": "middle", "frame": "group", "offset": -17, "baseline": "alphabetic", "dx": 5},
 "legend": {"orient": "top-right", "offset": 8, "fillColor": "white", "strokeColor": "#262626", "padding": 3, "labelFont": "Liberation Serif", "labelFontSize": 19, "labelColor": "#262626", "symbolType": "M-1,0H3", "symbolStrokeWidth": 3, "symbolSize": 441, "rowPadding": 1, "labelOffset": 26, "cornerRadius": 0}
}
}
